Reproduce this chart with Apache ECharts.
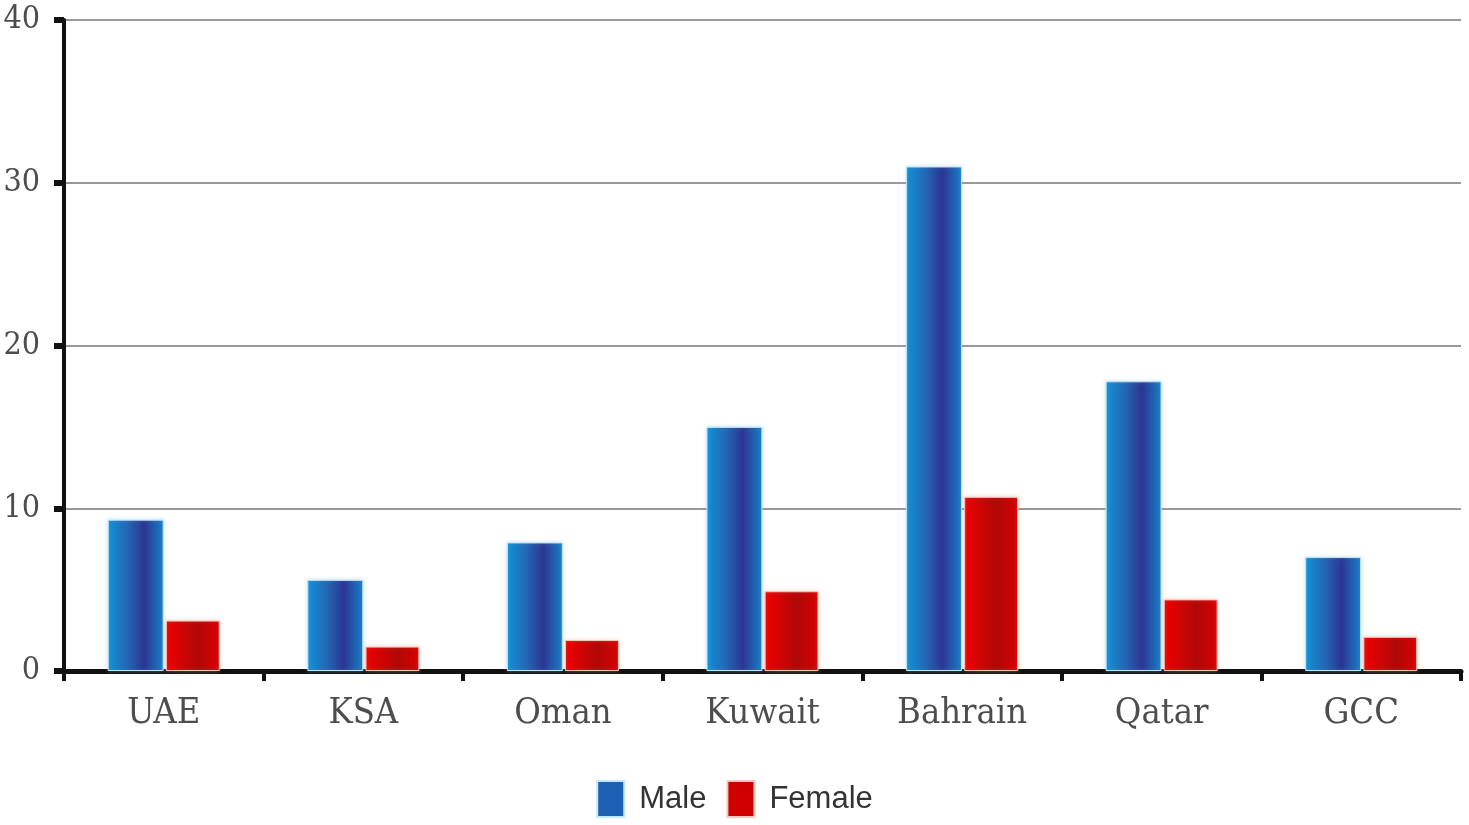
<!DOCTYPE html>
<html><head><meta charset="utf-8">
<script src="https://cdn.jsdelivr.net/npm/echarts@6/dist/echarts.min.js"></script>
<style>html,body{margin:0;padding:0;background:#fff}#c{width:1469px;height:825px}</style>
</head><body><div id="c"></div>
<script>
const categories = ['UAE', 'KSA', 'Oman', 'Kuwait', 'Bahrain', 'Qatar', 'GCC'];
const maleValues = [9.3, 5.6, 7.9, 15.0, 31.0, 17.8, 7.0];
const femaleValues = [3.1, 1.5, 1.9, 4.9, 10.7, 4.4, 2.1];
const yTicks = [0, 10, 20, 30, 40];

const chart = echarts.init(document.getElementById('c'));
const blue = new echarts.graphic.LinearGradient(0, 0, 1, 0, [
  {offset: 0, color: '#1192d8'}, {offset: 0.35, color: '#2466b4'},
  {offset: 0.65, color: '#2d3592'}, {offset: 1, color: '#1680c9'}]);
const red = new echarts.graphic.LinearGradient(0, 0, 1, 0, [
  {offset: 0, color: '#ee0000'}, {offset: 0.6, color: '#b00808'}, {offset: 1, color: '#d80000'}]);
const serif = '"DejaVu Serif Condensed", "Liberation Serif", serif';
chart.setOption({
  animation: false,
  grid: {left: 64, right: 8, top: 20, bottom: 154},
  legend: {
    bottom: 2, left: 'center', itemWidth: 27, itemHeight: 36, itemGap: 20,
    icon: 'rect',
    textStyle: {fontFamily: '"Liberation Sans Narrow", "Liberation Sans", sans-serif', fontSize: 31, color: '#333', padding: [0, 0, 0, 10]},
    data: [{name: 'Male', itemStyle: {color: '#1d5fb0'}}, {name: 'Female', itemStyle: {color: '#d00000'}}]
  },
  xAxis: {
    type: 'category', data: categories,
    axisLine: {lineStyle: {color: '#111', width: 5}},
    axisTick: {show: true, length: 10, lineStyle: {color: '#111', width: 4}},
    axisLabel: {fontFamily: serif, fontSize: 36, color: '#4d4d4d', margin: 25}
  },
  yAxis: {
    type: 'value', min: 0, max: 40, interval: 10,
    axisLine: {show: true, lineStyle: {color: '#111', width: 4}},
    axisTick: {show: true, length: 10, lineStyle: {color: '#111', width: 6}},
    axisLabel: {fontFamily: serif, fontSize: 32, color: '#4d4d4d', margin: 24,
      formatter: v => yTicks.includes(v) ? String(v) : ''},
    splitLine: {lineStyle: {color: '#999', width: 2}}
  },
  series: [
    {name: 'Male', type: 'bar', data: maleValues, barWidth: '28%', barGap: '4%',
     itemStyle: {color: blue, borderColor: '#bfe8f8', borderWidth: 1, shadowBlur: 4, shadowColor: 'rgba(120,180,220,0.4)'}},
    {name: 'Female', type: 'bar', data: femaleValues, barWidth: '27%',
     itemStyle: {color: red, borderColor: '#f6c8c0', borderWidth: 1, shadowBlur: 4, shadowColor: 'rgba(230,150,120,0.4)'}}
  ]
});
</script></body></html>
